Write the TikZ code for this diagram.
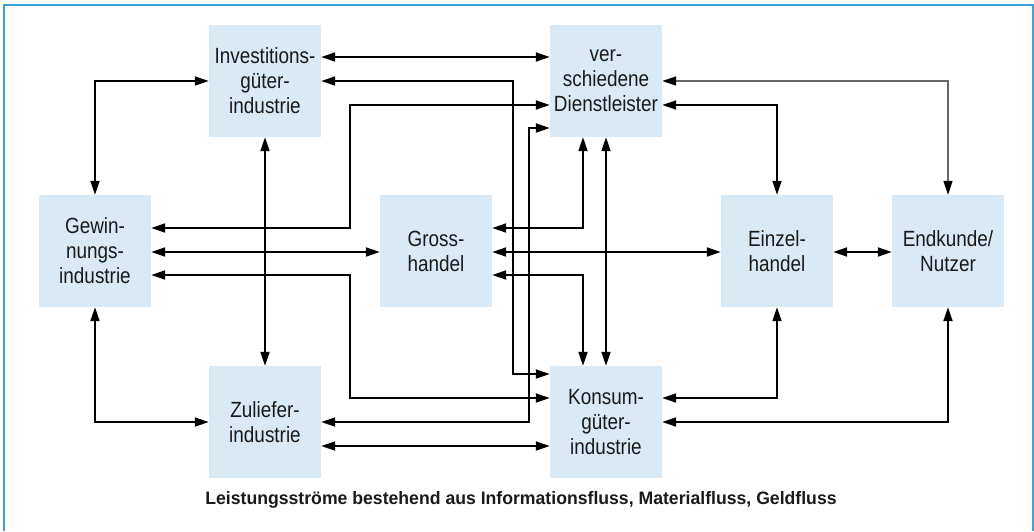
\documentclass[tikz,border=0pt]{standalone}
\usepackage{fontspec}
\setmainfont{Liberation Sans}[FakeStretch=0.86]
\newfontfamily\capfont{Liberation Sans}[FakeStretch=0.98]
\usetikzlibrary{arrows.meta}
\definecolor{boxfill}{HTML}{DAE9F6}
\definecolor{framecol}{HTML}{3FA2D4}
\definecolor{txt}{HTML}{1A1A1A}
\tikzset{
  box/.style={rectangle, fill=boxfill, minimum width=112pt, minimum height=112pt,
    inner sep=0pt, align=center, font=\fontsize{22}{25}\selectfont, text=txt},
  conn/.style={draw=black, line width=1.8pt,
    {Triangle[length=14pt,width=9pt]}-{Triangle[length=14pt,width=9pt]}},
  connthin/.style={draw=black!60, line width=1.2pt,
    {Triangle[length=14pt,width=9pt,color=black]}-{Triangle[length=14pt,width=9pt,color=black]}},
  caption/.style={font=\capfont\bfseries\fontsize{18}{22}\selectfont, text=txt, inner sep=0pt}
}
\begin{document}
\begin{tikzpicture}[x=1pt,y=-1pt]
\useasboundingbox (0,0) rectangle (1034,531);
\draw[framecol, line width=1.5pt] (4,531) -- (4,5) -- (1033,5) -- (1033,531);

\node[box] (inv) at (265,81) {Investitions-\\güter-\\industrie};
\node[box] (dl)  at (606,81) {ver-\\schiedene\\Dienstleister};
\node[box] (gew) at (95,251) {Gewin-\\nungs-\\industrie};
\node[box] (gh)  at (436,251) {Gross-\\handel};
\node[box] (ez)  at (777,251) {Einzel-\\handel};
\node[box] (ek)  at (948,251) {Endkunde/\\Nutzer};
\node[box] (zu)  at (265,422) {Zuliefer-\\industrie};
\node[box] (ko)  at (606,422) {Konsum-\\güter-\\industrie};

\node[caption] (cap) at (521,500) {Leistungsströme bestehend aus Informationsfluss, Materialfluss, Geldfluss};

% Investitionsgueter
\draw[conn] (inv.east |- 0,57) -- (dl.west |- 0,57);
\draw[conn] (inv.east |- 0,81) -| (513,374) -- (ko.west |- 0,374);
\draw[conn] (inv.south) -- (zu.north);
\draw[conn] (gew.north) |- (inv.west);
% Gewinnungsindustrie
\draw[conn] (gew.east |- 0,228) -| (350,105) -- (dl.west |- 0,105);
\draw[conn] (gew.east |- 0,252) -- (gh.west |- 0,252);
\draw[conn] (gew.east |- 0,275) -| (350,398) -- (ko.west |- 0,398);
\draw[conn] (gew.south) |- (zu.west);
% Zulieferindustrie
\draw[conn] (zu.east |- 0,422) -| (529,128) -- (dl.west |- 0,128);
\draw[conn] (zu.east |- 0,446) -- (ko.west |- 0,446);
% Grosshandel
\draw[conn] (gh.east |- 0,228) -| (dl.south -| 583,0);
\draw[conn] (gh.east |- 0,252) -- (ez.west |- 0,252);
\draw[conn] (gh.east |- 0,275) -| (ko.north -| 583,0);
% Dienstleister
\draw[conn] (dl.south) -- (ko.north);
\draw[connthin] (dl.east) -| (ek.north);
\draw[conn] (dl.east |- 0,105) -| (ez.north);
% Einzelhandel / Endkunde
\draw[conn] (ez.east |- 0,252) -- (ek.west |- 0,252);
\draw[conn] (ko.east |- 0,398) -| (ez.south);
\draw[conn] (ko.east) -| (ek.south);
\end{tikzpicture}
\end{document}
